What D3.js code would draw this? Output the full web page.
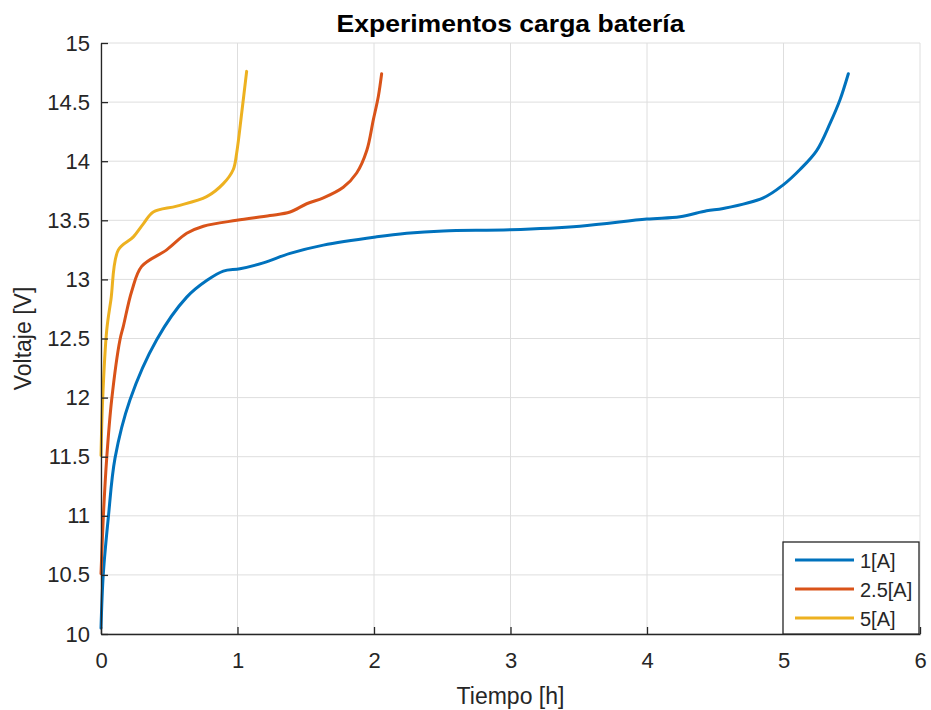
<!DOCTYPE html>
<html>
<head>
<meta charset="utf-8">
<script src="https://cdn.jsdelivr.net/npm/d3@7"></script>
<style>
  body { margin: 0; background: #fff; }
  svg text { font-family: "Liberation Sans", Arial, Helvetica, sans-serif; }
</style>
</head>
<body>
<svg id="chart" width="931" height="710"></svg>
<script>
// Charge curves: time [h] and voltage [V] per charging current
const t1 = [0, 0.017, 0.054, 0.103, 0.212, 0.408, 0.628, 0.774, 0.896, 1.018, 1.189, 1.385, 1.629, 2.02, 2.24, 2.508, 2.996, 3.509, 3.998, 4.242, 4.437, 4.559, 4.852, 4.998, 5.121, 5.243, 5.341, 5.414, 5.475];
const v1 = [10.05, 10.51, 10.99, 11.49, 11.98, 12.49, 12.85, 12.99, 13.07, 13.09, 13.14, 13.22, 13.29, 13.36, 13.39, 13.41, 13.42, 13.45, 13.51, 13.53, 13.58, 13.60, 13.69, 13.80, 13.93, 14.09, 14.32, 14.52, 14.74];

const t25 = [0, 0.017, 0.042, 0.078, 0.139, 0.163, 0.225, 0.298, 0.481, 0.628, 0.75, 0.994, 1.238, 1.385, 1.507, 1.629, 1.775, 1.873, 1.947, 1.995, 2.032, 2.056];
const v25 = [10.51, 10.99, 11.49, 11.98, 12.49, 12.60, 12.90, 13.11, 13.25, 13.39, 13.45, 13.50, 13.54, 13.57, 13.64, 13.69, 13.78, 13.90, 14.09, 14.35, 14.55, 14.74];

const t5 = [0, 0.012, 0.042, 0.073, 0.127, 0.237, 0.31, 0.383, 0.555, 0.774, 0.896, 0.969, 0.994, 1.031, 1.067];
const v5 = [11.51, 11.98, 12.57, 12.83, 13.25, 13.36, 13.47, 13.57, 13.62, 13.70, 13.81, 13.93, 14.07, 14.41, 14.76];

const seriesNames = ["1[A]", "2.5[A]", "5[A]"];
const seriesColors = ["#0072BD", "#D95319", "#EDB120"];
const xTicks = [0, 1, 2, 3, 4, 5, 6];
const yTicks = [10, 10.5, 11, 11.5, 12, 12.5, 13, 13.5, 14, 14.5, 15];

const series = [[t1, v1], [t25, v25], [t5, v5]].map(([t, v], i) => ({
  name: seriesNames[i],
  color: seriesColors[i],
  points: t.map((x, j) => [x, v[j]])
}));

const svg = d3.select("#chart");
const m = { left: 101, right: 11, top: 43, bottom: 76 };
const W = 931, H = 710;
const iw = W - m.left - m.right, ih = H - m.top - m.bottom;

const x = d3.scaleLinear().domain([0, 6]).range([m.left, m.left + iw]);
const y = d3.scaleLinear().domain([10, 15]).range([m.top + ih, m.top]);

const axisColor = "#262626";
const gridColor = "#dedede";

// grid
const g = svg.append("g");
g.selectAll(".gx").data(xTicks).join("line")
  .attr("x1", d => x(d)).attr("x2", d => x(d))
  .attr("y1", m.top).attr("y2", m.top + ih)
  .attr("stroke", gridColor).attr("stroke-width", 1);
g.selectAll(".gy").data(yTicks).join("line")
  .attr("x1", m.left).attr("x2", m.left + iw)
  .attr("y1", d => y(d)).attr("y2", d => y(d))
  .attr("stroke", gridColor).attr("stroke-width", 1);

// lines
const line = d3.line().x(d => x(d[0])).y(d => y(d[1])).curve(d3.curveCatmullRom.alpha(0.5));
svg.append("g").selectAll("path").data(series).join("path")
  .attr("d", d => line(d.points))
  .attr("fill", "none")
  .attr("stroke", d => d.color)
  .attr("stroke-width", 3)
  .attr("stroke-linejoin", "round")
  .attr("stroke-linecap", "round");

// axes
const xAxis = d3.axisBottom(x).tickValues(xTicks).tickFormat(d3.format("d")).tickSizeInner(-7).tickSizeOuter(0).tickPadding(18);
const yAxis = d3.axisLeft(y).tickValues(yTicks).tickFormat(d => String(d)).tickSizeInner(-7).tickSizeOuter(0).tickPadding(11);

const gx = svg.append("g").attr("transform", `translate(0,${m.top + ih})`).call(xAxis);
const gy = svg.append("g").attr("transform", `translate(${m.left},0)`).call(yAxis);
[gx, gy].forEach(a => {
  a.select(".domain").attr("stroke", axisColor).attr("stroke-width", 1.3);
  a.selectAll(".tick line").attr("stroke", axisColor).attr("stroke-width", 1.3);
  a.selectAll(".tick text").attr("fill", axisColor).attr("font-size", 22)
    .attr("font-family", "'Liberation Sans', Arial, sans-serif");
});

// title and labels
svg.append("text").attr("x", m.left + iw / 2).attr("y", 32)
  .attr("text-anchor", "middle").attr("font-size", 24).attr("font-weight", "bold")
  .attr("textLength", 348).attr("lengthAdjust", "spacingAndGlyphs")
  .attr("fill", "#000").text("Experimentos carga batería");
svg.append("text").attr("x", m.left + iw / 2).attr("y", 704)
  .attr("text-anchor", "middle").attr("font-size", 23)
  .attr("fill", axisColor).text("Tiempo [h]");
svg.append("text").attr("transform", `translate(31,${m.top + ih / 2}) rotate(-90)`)
  .attr("text-anchor", "middle").attr("font-size", 23)
  .attr("fill", axisColor).text("Voltaje [V]");

// legend
const lg = svg.append("g").attr("transform", "translate(783,542)");
lg.append("rect").attr("width", 136).attr("height", 92)
  .attr("fill", "#fff").attr("stroke", axisColor).attr("stroke-width", 1.3);
const rows = lg.selectAll(".row").data(series).join("g")
  .attr("transform", (d, i) => `translate(0,${18 + i * 29})`);
rows.append("line").attr("x1", 12).attr("x2", 71).attr("y1", 0).attr("y2", 0)
  .attr("stroke", d => d.color).attr("stroke-width", 3);
rows.append("text").attr("x", 77).attr("y", 8).attr("font-size", 20)
  .attr("fill", axisColor).text(d => d.name);
</script>
</body>
</html>
